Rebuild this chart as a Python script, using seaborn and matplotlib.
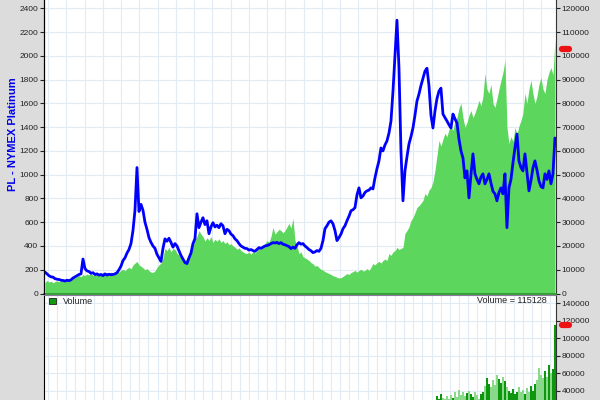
import numpy as np
import pandas as pd
import matplotlib
matplotlib.use('Agg')
import matplotlib.pyplot as plt
import matplotlib.dates as mdates
from matplotlib.patches import Patch
import seaborn as sns

# sampling dates (every 40 days, Nov 1984 .. 2012)
dates = pd.date_range('1984-11-01', periods=256, freq='40D')

# PL - NYMEX Platinum price
price = [
    180, 165, 150, 140, 138, 125, 120, 118, 112, 110,
    105, 112, 108, 115, 130, 140, 150, 160, 165, 290,
    210, 190, 185, 170, 175, 160, 165, 155, 160, 150,
    165, 155, 162, 158, 160, 165, 175, 200, 230, 277,
    300, 340, 370, 420, 530, 700, 1060, 690, 750, 700,
    600, 540, 470, 430, 400, 380, 330, 300, 270, 380,
    460, 440, 465, 430, 390, 420, 400, 360, 320, 290,
    260, 252, 300, 340, 420, 461, 671, 554, 600, 638,
    580, 612, 503, 560, 596, 560, 575, 554, 587, 570,
    503, 540, 529, 500, 487, 460, 445, 420, 400, 390,
    380, 378, 365, 370, 361, 355, 370, 386, 380, 390,
    400, 403, 410, 420, 428, 425, 430, 420, 428, 415,
    410, 403, 395, 378, 390, 380, 410, 428, 415, 420,
    400, 386, 370, 360, 344, 350, 361, 355, 380, 445,
    545, 570, 600, 612, 587, 530, 445, 470, 500, 545,
    570, 612, 650, 696, 705, 722, 830, 889, 805, 820,
    850, 864, 870, 889, 880, 973, 1050, 1116, 1225, 1200,
    1250, 1284, 1350, 1450, 1700, 2000, 2300, 1900, 1200, 780,
    1032, 1150, 1258, 1320, 1393, 1500, 1619, 1678, 1750, 1812,
    1871, 1896, 1750, 1500, 1393, 1535, 1640, 1703, 1728, 1510,
    1480, 1452, 1420, 1393, 1510, 1470, 1435, 1300, 1200, 1141,
    973, 1032, 805, 1000, 1175, 1007, 960, 923, 980, 1007,
    923, 960, 1007, 930, 860, 839, 780, 850, 889, 839,
    1007, 554, 889, 960, 1100, 1225, 1342, 1116, 1060, 1032,
    1175, 1020, 864, 950, 1057, 1116, 1040, 948, 900, 889,
    1007, 960, 1032, 923, 1007, 1309,
]

# open interest (thousands of contracts), right scale of upper panel
open_int_k = [
    4.6, 5.5, 4.8, 5.2, 4.5, 5.0, 5.4, 4.9, 5.6, 5.2,
    5.8, 6.2, 5.6, 6.5, 7.0, 6.6, 7.2, 7.6, 7.0, 8.0,
    7.5, 8.2, 7.8, 8.4, 7.6, 8.0, 8.6, 7.9, 8.3, 8.8,
    8.2, 8.9, 8.4, 9.0, 8.6, 8.8, 9.4, 9.0, 9.8, 10.2,
    9.6, 10.5, 11.0, 10.4, 12.0, 12.8, 13.5, 12.0, 11.5, 10.8,
    10.0, 10.5, 9.6, 9.0, 8.8, 9.5, 11.0, 12.0, 12.8, 15.0,
    19.0, 18.0, 19.5, 17.5, 19.0, 18.5, 17.0, 16.0, 15.0, 14.5,
    13.9, 14.5, 16.8, 18.0, 20.0, 22.5, 24.0, 26.5, 25.0, 24.0,
    22.0, 23.5, 22.3, 24.0, 21.5, 22.8, 22.0, 23.0, 21.5, 22.3,
    21.0, 21.8, 20.5, 21.0, 20.0, 19.5, 18.6, 19.2, 18.1, 17.5,
    17.0, 16.8, 17.5, 16.5, 17.8, 17.0, 18.1, 19.0, 18.5, 20.0,
    21.0, 22.3, 21.5, 24.0, 27.8, 25.0, 26.0, 27.0, 26.5, 25.5,
    26.5, 28.0, 29.5, 27.5, 31.6, 22.3, 20.0, 16.8, 17.5, 15.5,
    15.0, 14.5, 13.9, 13.0, 12.5, 11.5, 11.8, 10.9, 10.2, 9.8,
    9.2, 8.8, 8.4, 8.0, 7.5, 7.2, 6.8, 6.5, 6.7, 7.2,
    7.8, 8.4, 8.0, 8.8, 9.2, 9.7, 9.0, 9.7, 10.2, 9.5,
    9.7, 10.5, 9.7, 11.0, 12.6, 12.0, 13.0, 13.5, 12.8, 13.9,
    14.5, 13.9, 16.8, 16.0, 17.5, 18.0, 19.4, 18.5, 19.0, 19.4,
    25.3, 26.5, 28.0, 30.7, 32.0, 34.0, 36.2, 37.0, 38.0, 39.2,
    42.1, 41.0, 43.5, 44.6, 47.0, 51.8, 58.0, 64.4, 62.0, 65.0,
    67.4, 66.0, 69.0, 70.5, 68.5, 72.8, 74.0, 78.0, 80.0, 74.0,
    69.9, 72.0, 75.0, 77.0, 74.0, 76.0, 78.5, 81.3, 79.0, 83.0,
    92.6, 86.0, 84.2, 88.0, 80.0, 78.3, 82.0, 86.0, 89.7, 93.0,
    98.1, 70.0, 63.1, 66.0, 64.0, 69.9, 67.0, 70.5, 72.8, 76.0,
    84.2, 80.0, 86.0, 89.7, 84.0, 80.0, 83.0, 88.0, 90.9, 86.0,
    84.2, 90.0, 93.0, 95.1, 92.0, 107.0,
]

# daily volume (thousands), lower panel
volume_k = [
    1.5, 1.8, 1.6, 2.0, 1.7, 1.9, 2.2, 1.8, 2.1, 2.4, 2.0, 2.3, 2.6, 2.2, 2.5, 2.8, 2.4, 3.5, 2.9, 3.1,
    2.8, 3.0, 3.3, 2.9, 3.2, 3.4, 3.0, 3.6, 3.3, 3.8, 3.5, 3.9, 3.4, 3.7, 4.0, 3.6, 4.2, 5.0, 6.5, 7.0,
    7.5, 8.0, 9.0, 10.5, 12.0, 14.0, 18.0, 15.0, 13.0, 11.0, 10.0, 9.5, 9.0, 8.5, 8.0, 7.5, 7.8, 8.2, 8.8, 9.5,
    10.0, 9.5, 10.5, 9.8, 10.2, 9.6, 9.0, 9.4, 8.8, 9.2, 9.5, 10.0, 10.8, 11.5, 12.5, 13.5, 16.0, 14.0, 13.5, 12.8,
    12.0, 12.5, 11.8, 12.2, 11.5, 12.0, 11.6, 11.2, 11.8, 11.0, 10.8, 11.2, 10.5, 10.8, 10.2, 10.0, 9.8, 10.2, 9.6, 9.8,
    9.5, 9.8, 9.2, 9.6, 9.0, 9.4, 9.8, 10.2, 10.0, 10.5, 10.8, 11.2, 11.0, 11.6, 12.2, 11.8, 12.5, 12.0, 12.8, 12.4,
    12.8, 13.2, 13.5, 12.9, 14.0, 12.5, 11.0, 10.5, 10.0, 9.6, 9.2, 9.0, 8.8, 8.5, 8.2, 8.0, 7.8, 8.2, 8.6, 9.4,
    10.5, 11.5, 12.0, 12.5, 11.8, 11.0, 10.5, 10.8, 11.5, 12.2, 12.8, 13.5, 14.0, 14.8, 15.2, 16.0, 17.5, 18.5, 17.8, 18.2,
    18.8, 19.5, 20.0, 20.8, 21.5, 22.0, 22.8, 23.5, 24.0, 25.0, 25.5, 26.0, 26.8, 27.0, 26.0, 25.5, 27.0, 25.5, 24.0, 23.0,
    22.0, 23.0, 24.5, 25.0, 26.0, 27.0, 26.5, 27.5, 28.0, 27.0, 28.5, 27.5, 29.0, 28.0, 28.5, 29.0, 34.0, 30.0, 36.0, 32.0,
    31.0, 34.0, 30.5, 35.0, 32.0, 38.0, 33.0, 41.0, 35.0, 39.0, 34.0, 37.0, 40.0, 36.0, 33.0, 38.0, 35.0, 31.0, 36.0, 39.0,
    45.0, 55.0, 48.0, 44.0, 52.0, 47.0, 58.0, 53.0, 49.0, 56.0, 51.0, 44.0, 40.0, 37.0, 42.0, 36.0, 39.0, 44.0, 38.0, 41.0,
    36.0, 43.0, 39.0, 45.0, 40.0, 48.0, 52.0, 66.0, 58.0, 54.0, 62.0, 56.0, 69.0, 60.0, 65.0, 115.128,
]

last_oi = 103000
last_vol = 115128

sns.set_style('white')
plt.rcParams['font.family'] = ['Liberation Sans', 'DejaVu Sans']

oi = np.array(open_int_k) * 1000
vol = np.array(volume_k) * 1000
xlim = (dates[0] - pd.Timedelta(days=20), dates[-1] + pd.Timedelta(days=20))

fig = plt.figure(figsize=(6, 4), dpi=100)
fig.patch.set_facecolor('#dcdcdc')

grid_col = '#e1ebf5'
tick_kw = dict(direction='out', length=3, width=0.8, labelsize=6, pad=1, colors='#222222')

# ---- upper panel: open interest (back) + price (front)
ax = fig.add_axes([0.0733, 0.26625, 0.8533, 0.73375])
ax.set_facecolor('white')
ax.fill_between(dates, 0, oi, color='#5cd65c', lw=0, zorder=2)
ax.set_ylim(0, 123500)
ax.set_yticks(np.arange(0, 120001, 10000))
ax.grid(True, color=grid_col, lw=0.8)
ax.set_axisbelow(True)
ax.xaxis.set_major_locator(mdates.YearLocator())
ax.tick_params(axis='x', length=0, labelbottom=False)
ax.set_xlim(xlim)
ax.spines['top'].set_visible(False)
ax.spines['left'].set_color('black')
ax.spines['right'].set_color('#333333')
ax.spines['bottom'].set_color('#2f9a2f')
ax.spines['bottom'].set_linewidth(1.3)
ax.plot([1.012, 1.026], [last_oi, last_oi], transform=ax.get_yaxis_transform(),
        color='#ee1111', lw=4.5, solid_capstyle='round', clip_on=False, zorder=5)

ax2 = ax.twinx()
sns.lineplot(x=dates, y=price, ax=ax2, color='#0000ff', linewidth=2.0)
ax2.set(xlabel='', ylabel='')
ax2.set_ylim(0, 2470)
ax2.set_yticks(range(0, 2401, 200))
ax2.set_xlim(xlim)
for s in ['top', 'right', 'bottom']:
    ax2.spines[s].set_visible(False)
ax2.spines['left'].set_color('black')

# twinx moves the ticks around, so put them back where the reference has them
ax.yaxis.set_ticks_position('right')
ax2.yaxis.set_ticks_position('left')
ax.tick_params(axis='y', which='both', left=False, labelleft=False, right=True, labelright=True, **tick_kw)
ax2.tick_params(axis='y', which='both', right=False, labelright=False, left=True, labelleft=True, **tick_kw)

fig.text(0.022, 0.665, 'PL - NYMEX Platinum', rotation=90, color='#0000ee',
         fontweight='bold', fontsize=8, ha='center', va='center')

# ---- lower panel: volume bars
ax3 = fig.add_axes([0.0733, 0.0, 0.8533, 0.2625])
ax3.set_facecolor('white')
up = np.r_[True, np.diff(price) >= 0]
bar_cols = np.where(up, '#0e960e', '#8ad88a')
ax3.bar(dates, vol, width=30, color=bar_cols, lw=0, zorder=2)
ax3.set_xlim(xlim)
ax3.set_ylim(29360, 149500)
ax3.set_yticks(np.arange(40000, 140001, 20000))
ax3.yaxis.tick_right()
ax3.xaxis.set_major_locator(mdates.MonthLocator(bymonth=[1, 7]))
ax3.tick_params(axis='x', length=0, labelbottom=False)
ax3.tick_params(axis='y', **tick_kw)
ax3.grid(True, color=grid_col, lw=0.8)
ax3.set_axisbelow(True)
ax3.spines['top'].set_color('#8c7c9c')
ax3.spines['left'].set_color('black')
ax3.spines['right'].set_color('#333333')
ax3.spines['bottom'].set_visible(False)
ax3.legend(handles=[Patch(facecolor='#119911', edgecolor='#222222', lw=0.6)], labels=['Volume'],
           loc='upper left', bbox_to_anchor=(0.0, 1.03), frameon=False, fontsize=6.5,
           handlelength=0.75, handleheight=0.75, handletextpad=0.7, borderaxespad=0.2)
ax3.text(0.982, 0.99, f'Volume = {last_vol}', transform=ax3.transAxes,
         ha='right', va='top', fontsize=6.5, color='#222222')
ax3.plot([1.012, 1.026], [last_vol, last_vol], transform=ax3.get_yaxis_transform(),
         color='#ee1111', lw=4.5, solid_capstyle='round', clip_on=False, zorder=5)

fig.savefig('out.png', dpi=100, facecolor=fig.get_facecolor())
